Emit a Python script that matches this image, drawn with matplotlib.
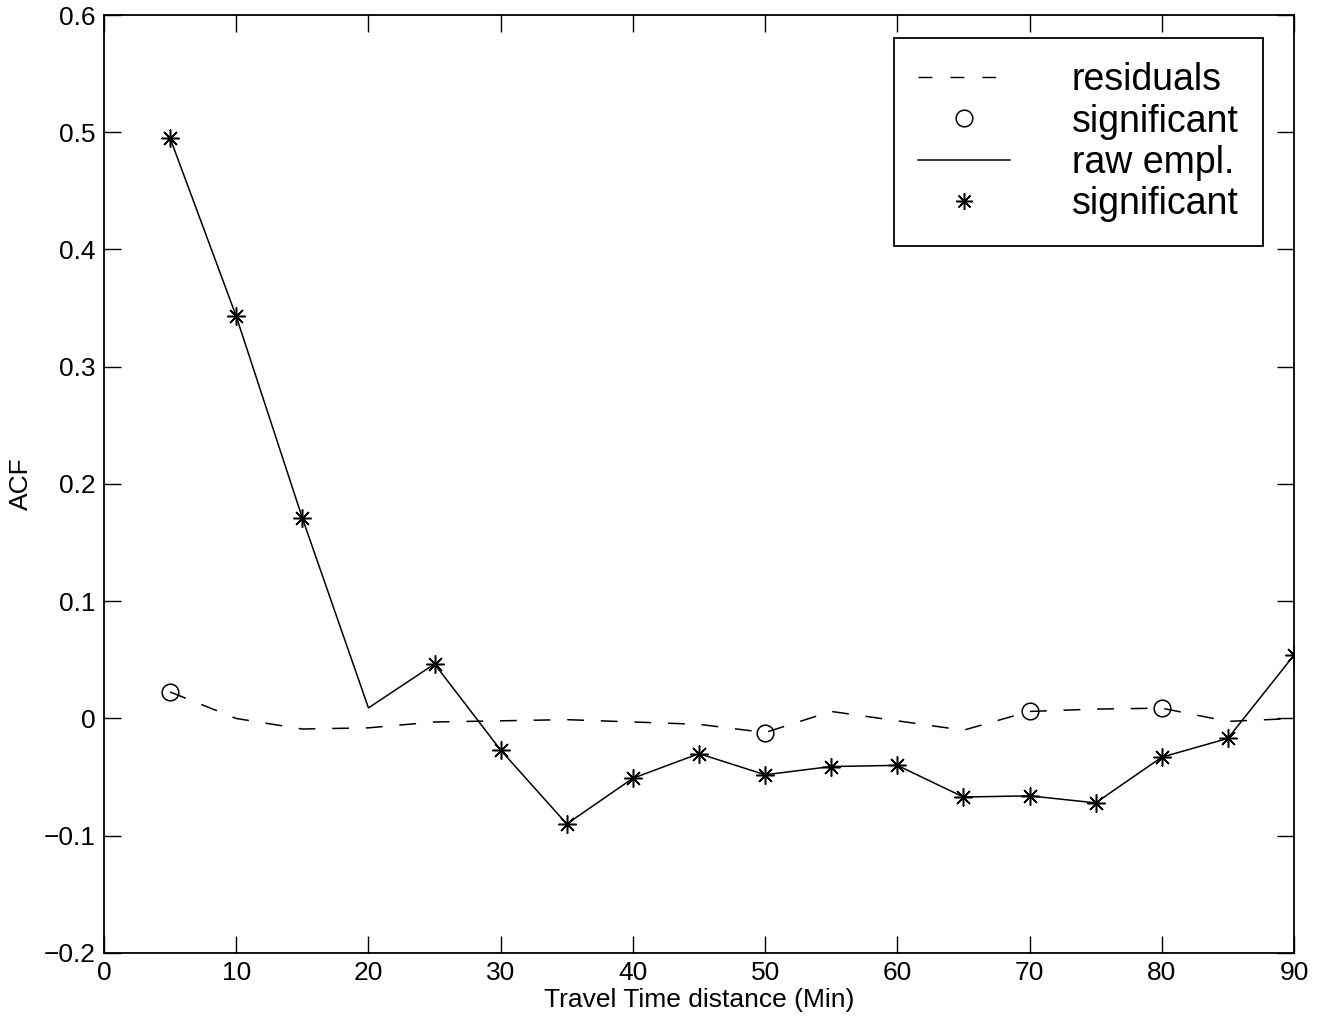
import numpy as np
import matplotlib
matplotlib.use("Agg")
from matplotlib import pyplot as plt
from matplotlib.lines import Line2D
from matplotlib.ticker import FuncFormatter

plt.rcParams["font.family"] = ["Liberation Sans", "DejaVu Sans"]

# travel time distance (min)
lags = [5, 10, 15, 20, 25, 30, 35, 40, 45, 50, 55, 60, 65, 70, 75, 80, 85, 90]

resid_acf = [0.0226, 0.000, -0.009, -0.008, -0.003, -0.002, -0.001, -0.003, -0.005,
             -0.012, 0.006, -0.002, -0.010, 0.006, 0.008, 0.0088, -0.0025, 0.000]
resid_sig = [5, 50, 70, 80]

raw_acf = [0.495, 0.343, 0.171, 0.009, 0.0465, -0.027, -0.090, -0.051, -0.030,
           -0.048, -0.041, -0.040, -0.067, -0.066, -0.072, -0.033, -0.017, 0.054]
raw_sig = [5, 10, 15, 25, 30, 35, 40, 45, 50, 55, 60, 65, 70, 75, 80, 85, 90]

star = (8, 2, 0)  # matlab style asterisk
dash = (0, (11, 11))

fig = plt.figure(figsize=(13.25, 10.28), dpi=100)
ax = fig.add_axes([0.0785, 0.073, 0.8981, 0.9124])

lut_r = dict(zip(lags, resid_acf))
lut_w = dict(zip(lags, raw_acf))

ax.plot(lags, resid_acf, color="black", lw=1.1, linestyle=dash)
ax.plot(resid_sig, [lut_r[k] for k in resid_sig], "o", color="black",
        mfc="none", ms=12, mew=1.1)
ax.plot(lags, raw_acf, "-", color="black", lw=1.1)
ax.plot(raw_sig, [lut_w[k] for k in raw_sig], linestyle="none", marker=star,
        color="black", ms=13, mew=1.1)

ax.set_xlim(0, 90)
ax.set_ylim(-0.2, 0.6)
ax.set_xticks(np.arange(0, 91, 10))
ax.set_yticks(np.arange(-0.2, 0.61, 0.1))
fmt = FuncFormatter(lambda v, p: ("%g" % round(v, 2)).replace("-", "\u2212"))
ax.yaxis.set_major_formatter(fmt)
ax.xaxis.set_major_formatter(fmt)
ax.tick_params(direction="in", length=12, width=1, labelsize=19,
               top=True, right=True, pad=6)
for s in ax.spines.values():
    s.set_linewidth(1.3)

ax.set_xlabel("Travel Time distance (Min)", fontsize=19, labelpad=2)
ax.set_ylabel("ACF", fontsize=19, labelpad=8)

handles = [
    Line2D([], [], color="black", lw=1.0, linestyle=(0, (10, 13))),
    Line2D([], [], color="black", marker="o", mfc="none", ms=12, mew=1.1, linestyle="none"),
    Line2D([], [], color="black", lw=1.1),
    Line2D([], [], color="black", marker=star, ms=12, mew=1.1, linestyle="none"),
]
labels = ["residuals", "significant", "raw empl.", "significant"]
leg = ax.legend(handles, labels, loc="upper right", bbox_to_anchor=(0.974, 0.9755),
                fontsize=27, frameon=True,
                fancybox=False, edgecolor="black", framealpha=1,
                handlelength=2.45, handletextpad=1.65, labelspacing=0.14,
                borderpad=0.65, borderaxespad=0)
leg.get_frame().set_linewidth(1.3)

fig.savefig("out.png", dpi=100)
